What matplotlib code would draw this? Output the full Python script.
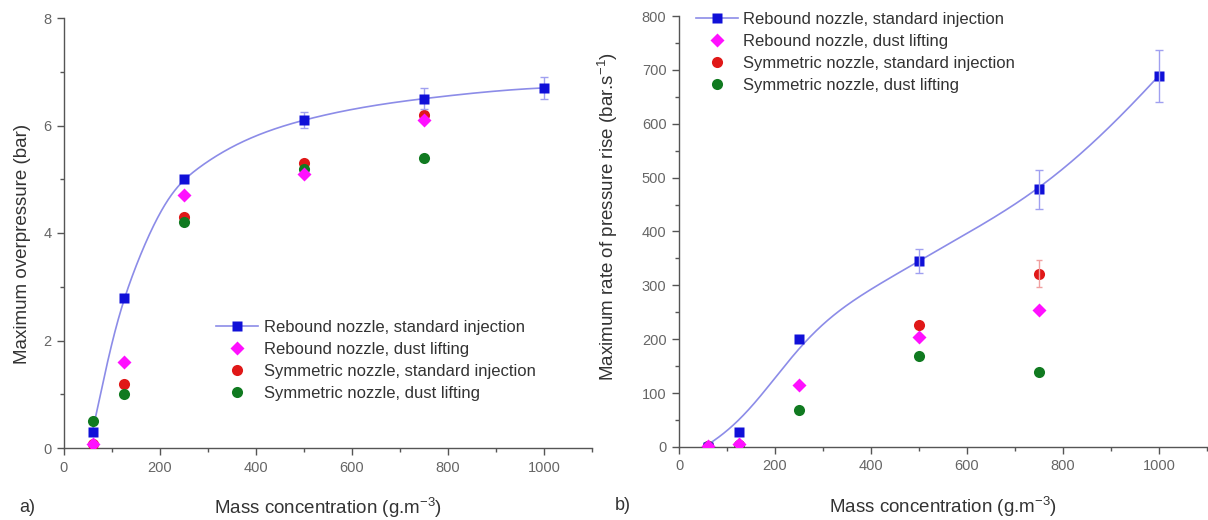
import numpy as np
import matplotlib
matplotlib.use("Agg")
import matplotlib.pyplot as plt
from matplotlib.lines import Line2D
from matplotlib.ticker import MultipleLocator

plt.rcParams['font.family'] = ['Liberation Sans', 'DejaVu Sans']
plt.rcParams['mathtext.fontset'] = 'custom'
plt.rcParams['mathtext.rm'] = 'Liberation Sans'
plt.rcParams['mathtext.default'] = 'regular'

# ---------------- data ----------------
conc = [60, 125, 250, 500, 750, 1000]
conc5 = [60, 125, 250, 500, 750]

# a) maximum overpressure (bar)
p_reb_std = [0.3, 2.8, 5.0, 6.1, 6.5, 6.7]
p_reb_std_err = [0.0, 0.0, 0.0, 0.15, 0.2, 0.2]
p_reb_lift = [0.07, 1.6, 4.7, 5.1, 6.1]
p_sym_std = [0.07, 1.2, 4.3, 5.3, 6.2]
p_sym_lift = [0.5, 1.0, 4.2, 5.2, 5.4]

# b) maximum rate of pressure rise (bar/s)
r_reb_std = [0, 28, 200, 345, 478, 688]
r_reb_std_err = [0, 0, 0, 22, 37, 48]
r_reb_lift = [2, 5, 115, 205, 255]
r_sym_std = [1, 4, np.nan, 226, 322]
r_sym_std_err = [0, 0, 0, 0, 25]
r_sym_lift = [1, 3, 68, 168, 140]

labels = ["Rebound nozzle, standard injection",
          "Rebound nozzle, dust lifting",
          "Symmetric nozzle, standard injection",
          "Symmetric nozzle, dust lifting"]

C_BLUE = '#1010d8'
C_MAG = '#ff10ff'
C_RED = '#e01818'
C_GREEN = '#107a20'
C_LINE = '#8c8ce8'
C_AX = '#555555'
C_TXT = '#333333'


def pchip(x, y, xs):
    x = np.asarray(x, float); y = np.asarray(y, float)
    h = np.diff(x); d = np.diff(y) / h
    n = len(x); m = np.zeros(n)
    for k in range(1, n - 1):
        if d[k - 1] * d[k] > 0:
            w1 = 2 * h[k] + h[k - 1]; w2 = h[k] + 2 * h[k - 1]
            m[k] = (w1 + w2) / (w1 / d[k - 1] + w2 / d[k])
    def endslope(h0, h1, d0, d1):
        s = ((2 * h0 + h1) * d0 - h0 * d1) / (h0 + h1)
        if np.sign(s) != np.sign(d0):
            s = 0.0
        elif np.sign(d0) != np.sign(d1) and abs(s) > abs(3 * d0):
            s = 3 * d0
        return s
    m[0] = endslope(h[0], h[1], d[0], d[1])
    m[-1] = endslope(h[-1], h[-2], d[-1], d[-2])
    idx = np.clip(np.searchsorted(x, xs) - 1, 0, n - 2)
    t = (xs - x[idx]) / h[idx]
    h00 = 2 * t**3 - 3 * t**2 + 1; h10 = t**3 - 2 * t**2 + t
    h01 = -2 * t**3 + 3 * t**2; h11 = t**3 - t**2
    return h00 * y[idx] + h10 * h[idx] * m[idx] + h01 * y[idx + 1] + h11 * h[idx] * m[idx + 1]


def smoothed(x, y, sigma):
    """PCHIP curve through the points, softened with a gaussian kernel."""
    xs = np.arange(x[0], x[-1] + 0.5, 1.0)
    ys = pchip(x, y, xs)
    pad = int(4 * sigma)
    sl0 = (y[1] - y[0]) / (x[1] - x[0])
    sl1 = (ys[-1] - ys[-2])
    left = ys[0] + sl0 * np.arange(-pad, 0)
    right = ys[-1] + sl1 * np.arange(1, pad + 1)
    yy = np.concatenate([left, ys, right])
    k = np.arange(-pad, pad + 1)
    g = np.exp(-0.5 * (k / sigma) ** 2); g /= g.sum()
    ysm = np.convolve(yy, g, mode='same')[pad:-pad]
    return xs, ysm


W, H = 1208, 520
fig = plt.figure(figsize=(W / 100, H / 100), dpi=100)
axA = fig.add_axes([64 / W, 1 - 448 / H, 528 / W, 430 / H])
axB = fig.add_axes([679 / W, 1 - 447 / H, 528 / W, 431 / H])

ms = 8


def style(ax, ymax, ymaj, ymin):
    ax.set_xlim(0, 1100)
    ax.set_ylim(0, ymax)
    for s in ['top', 'right']:
        ax.spines[s].set_visible(False)
    for s in ['left', 'bottom']:
        ax.spines[s].set_color(C_AX)
        ax.spines[s].set_linewidth(1.0)
    ax.xaxis.set_major_locator(MultipleLocator(200))
    ax.xaxis.set_minor_locator(MultipleLocator(100))
    ax.yaxis.set_major_locator(MultipleLocator(ymaj))
    ax.yaxis.set_minor_locator(MultipleLocator(ymin))
    ax.tick_params(which='major', direction='out', length=5, width=1, color=C_AX,
                   labelsize=10.5, labelcolor='#666666', pad=4)
    ax.tick_params(which='minor', direction='out', length=3, width=1, color=C_AX)
    ax.set_xlabel('Mass concentration (g.m$^{-3}$)', fontsize=13.5, color=C_TXT)
    ax.xaxis.set_label_coords(0.5, -0.112)


def errbars(ax, x, y, e, color, cap):
    sel = [i for i in range(len(e)) if e[i] > 0]
    ax.errorbar([x[i] for i in sel], [y[i] for i in sel], yerr=[e[i] for i in sel],
                fmt='none', ecolor=color, elinewidth=1, capsize=cap, zorder=5)


# ---------- panel a ----------
style(axA, 8, 2, 1)
xa, ya = smoothed(conc, p_reb_std, 18)
axA.plot(xa, ya, color=C_LINE, lw=1.2, zorder=2)
axA.plot(conc5, p_sym_std, 'o', color=C_RED, ms=ms, mec='none', zorder=3)
axA.plot(conc5, p_sym_lift, 'o', color=C_GREEN, ms=ms, mec='none', zorder=4)
axA.plot(conc5, p_reb_lift, 'D', color=C_MAG, ms=7, mec='none', zorder=5)
errbars(axA, conc, p_reb_std, p_reb_std_err, '#a0a0f0', 3)
axA.plot(conc, p_reb_std, 's', color=C_BLUE, ms=7.5, mec='none', zorder=6)
axA.set_ylabel('Maximum overpressure (bar)', fontsize=13.5, color=C_TXT)
axA.yaxis.set_label_coords(-0.062, 0.474)

# ---------- panel b ----------
style(axB, 800, 100, 50)
axB.plot(conc5, r_sym_std, 'o', color=C_RED, ms=ms, mec='none', zorder=3)
errbars(axB, conc5, r_sym_std, r_sym_std_err, '#f0a0a0', 2)
axB.plot(conc5, r_sym_lift, 'o', color=C_GREEN, ms=ms, mec='none', zorder=4)
axB.plot(conc5, r_reb_lift, 'D', color=C_MAG, ms=7, mec='none', zorder=5)
xb, yb = smoothed(conc, r_reb_std, 70)
keep = yb >= 0
axB.plot(xb[keep], yb[keep], color=C_LINE, lw=1.2, zorder=2)
errbars(axB, conc, r_reb_std, r_reb_std_err, '#a0a0f0', 3)
axB.plot(conc, r_reb_std, 's', color=C_BLUE, ms=7.5, mec='none', zorder=4.5)
axB.set_ylabel('Maximum rate of pressure rise (bar.s$^{-1}$)', fontsize=13.5, color=C_TXT)
axB.yaxis.set_label_coords(-0.112, 0.536)

# ---------- legends ----------
handles = [Line2D([], [], color=C_LINE, lw=1.2, marker='s', ms=7.5, mfc=C_BLUE, mec='none'),
           Line2D([], [], ls='none', marker='D', ms=7, color=C_MAG, mec='none'),
           Line2D([], [], ls='none', marker='o', ms=ms, color=C_RED, mec='none'),
           Line2D([], [], ls='none', marker='o', ms=ms, color=C_GREEN, mec='none')]
for ax, anchor in [(axA, (0.288, 0.298)), (axB, (0.032, 1.01))]:
    leg = ax.legend(handles, labels, loc='upper left', bbox_to_anchor=anchor,
                    frameon=False, fontsize=12, borderpad=0, borderaxespad=0,
                    handlelength=2.5, handletextpad=0.35, labelspacing=0.42)
    for t in leg.get_texts():
        t.set_color(C_TXT)

fig.text(27 / W, 1 - 507 / H, 'a)', fontsize=13, color=C_TXT, ha='center', va='center')
fig.text(623 / W, 1 - 505 / H, 'b)', fontsize=13, color=C_TXT, ha='center', va='center')

fig.savefig('out.png', dpi=100)
